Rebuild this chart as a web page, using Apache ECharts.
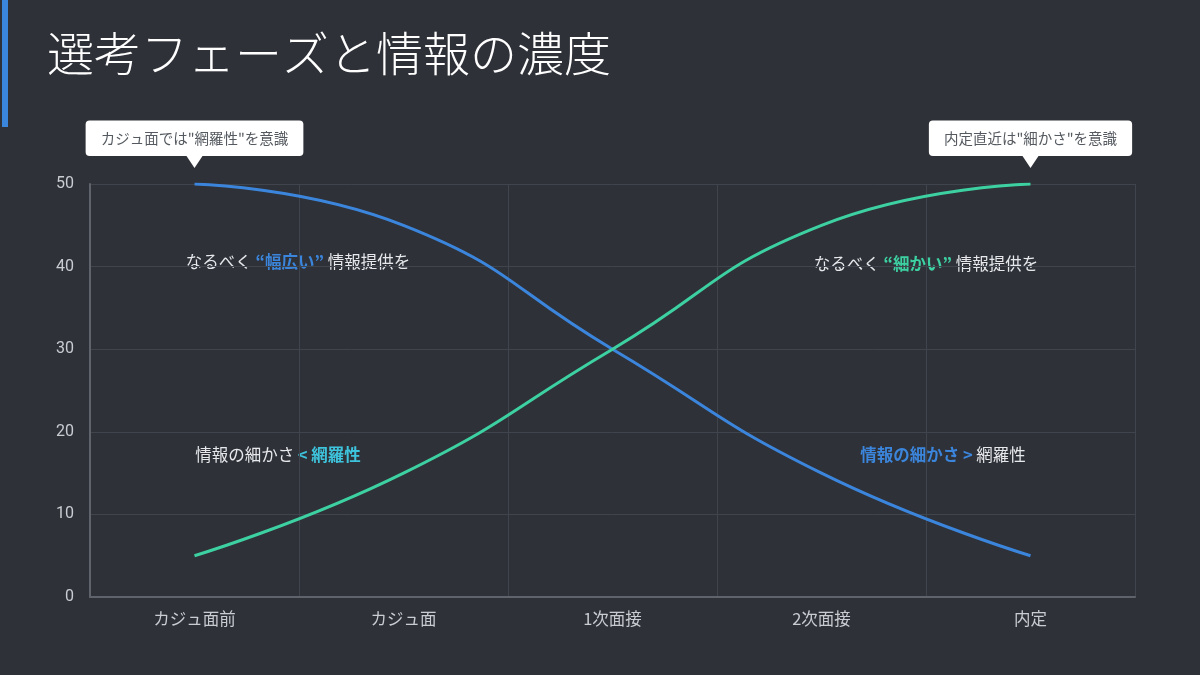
<!DOCTYPE html>
<html>
<head>
<meta charset="utf-8">
<script src="https://cdn.jsdelivr.net/npm/echarts@6/dist/echarts.min.js"></script>
<style>
  html, body { margin: 0; padding: 0; background: #2e3138; }
  #chart { width: 1200px; height: 675px; }
</style>
</head>
<body>
<div id="chart"></div>
<script>
const phases = ['カジュ面前', 'カジュ面', '1次面接', '2次面接', '内定']
const breadth = [50, 45, 30, 15, 5]   // 網羅性
const detail = [5, 15, 30, 45, 50]    // 細かさ
const yTicks = [0, 10, 20, 30, 40, 50]

const FONT = '"Noto Sans CJK JP", "Noto Sans", sans-serif'
const BLUE = '#3b86dc'
const GREEN = '#3dd1a2'
const CYAN = '#3ec3dc'
const NOTE = 16.5

const myChart = echarts.init(document.getElementById('chart'))

// 吹き出し（下向きの三角＋白いラベル）
function callout(text, idx, value) {
  return {
    coord: [idx, value],
    symbol: 'triangle',
    symbolRotate: 180,
    symbolSize: [16, 12],
    symbolOffset: [0, -22],
    itemStyle: { color: '#ffffff' },
    label: {
      show: true,
      position: 'top',
      distance: 0,
      formatter: text,
      color: '#555a60',
      fontSize: 14.5,
      fontFamily: FONT,
      backgroundColor: '#ffffff',
      borderRadius: 4,
      padding: [11, 15, 10, 15]
    }
  }
}

function note(text, x, y, rich) {
  return {
    type: 'text', x: x, y: y,
    style: {
      text: text,
      align: 'center', verticalAlign: 'middle',
      fill: '#e6e8eb', font: NOTE + 'px ' + FONT,
      rich: rich
    }
  }
}

const option = {
  backgroundColor: '#2e3138',
  animation: false,
  grid: { left: 90, right: 65, top: 184, bottom: 78 },
  xAxis: {
    type: 'category',
    data: phases,
    boundaryGap: true,
    axisLine: { lineStyle: { color: '#5f636b', width: 2 } },
    axisTick: { show: false },
    axisLabel: { color: '#c9ccd1', fontSize: 16.5, fontFamily: FONT, margin: 13 },
    splitLine: { show: true, lineStyle: { color: '#40444c', width: 1 } }
  },
  yAxis: {
    type: 'value',
    min: yTicks[0],
    max: yTicks[yTicks.length - 1],
    interval: 10,
    axisLine: { show: true, lineStyle: { color: '#5f636b', width: 2 } },
    axisTick: { show: false },
    axisLabel: { color: '#c9ccd1', fontSize: 16, fontFamily: 'Roboto, sans-serif', margin: 16 },
    splitLine: { lineStyle: { color: '#40444c', width: 1 } }
  },
  series: [
    {
      name: '網羅性',
      type: 'line',
      data: breadth,
      smooth: true,
      showSymbol: false,
      lineStyle: { color: BLUE, width: 3 },
      itemStyle: { color: BLUE },
      markPoint: {
        silent: true,
        data: [callout('カジュ面では"網羅性"を意識', 0, breadth[0])]
      }
    },
    {
      name: '細かさ',
      type: 'line',
      data: detail,
      smooth: true,
      showSymbol: false,
      lineStyle: { color: GREEN, width: 3 },
      itemStyle: { color: GREEN },
      markPoint: {
        silent: true,
        data: [callout('内定直近は"細かさ"を意識', 4, detail[4])]
      }
    }
  ],
  graphic: [
    { type: 'rect', left: 2, top: 0, shape: { width: 6, height: 127 }, style: { fill: '#3a86dc' } },
    {
      type: 'text', left: 47, top: 30,
      style: { text: '選考フェーズと情報の濃度', fill: '#ffffff', font: '300 47px ' + FONT }
    },
    note('なるべく {b|“幅広い”} 情報提供を', 298, 262,
      { b: { fill: BLUE, fontWeight: 'bold', fontSize: NOTE, fontFamily: FONT } }),
    note('なるべく {g|“細かい”} 情報提供を', 926, 264,
      { g: { fill: GREEN, fontWeight: 'bold', fontSize: NOTE, fontFamily: FONT } }),
    note('情報の細かさ {c|< 網羅性}', 278, 455,
      { c: { fill: CYAN, fontWeight: 'bold', fontSize: NOTE, fontFamily: FONT } }),
    note('{b|情報の細かさ >} 網羅性', 943, 455,
      { b: { fill: BLUE, fontWeight: 'bold', fontSize: NOTE, fontFamily: FONT } })
  ]
}

myChart.setOption(option)
window.addEventListener('resize', function () {
  myChart.resize()
})
</script>
</body>
</html>
